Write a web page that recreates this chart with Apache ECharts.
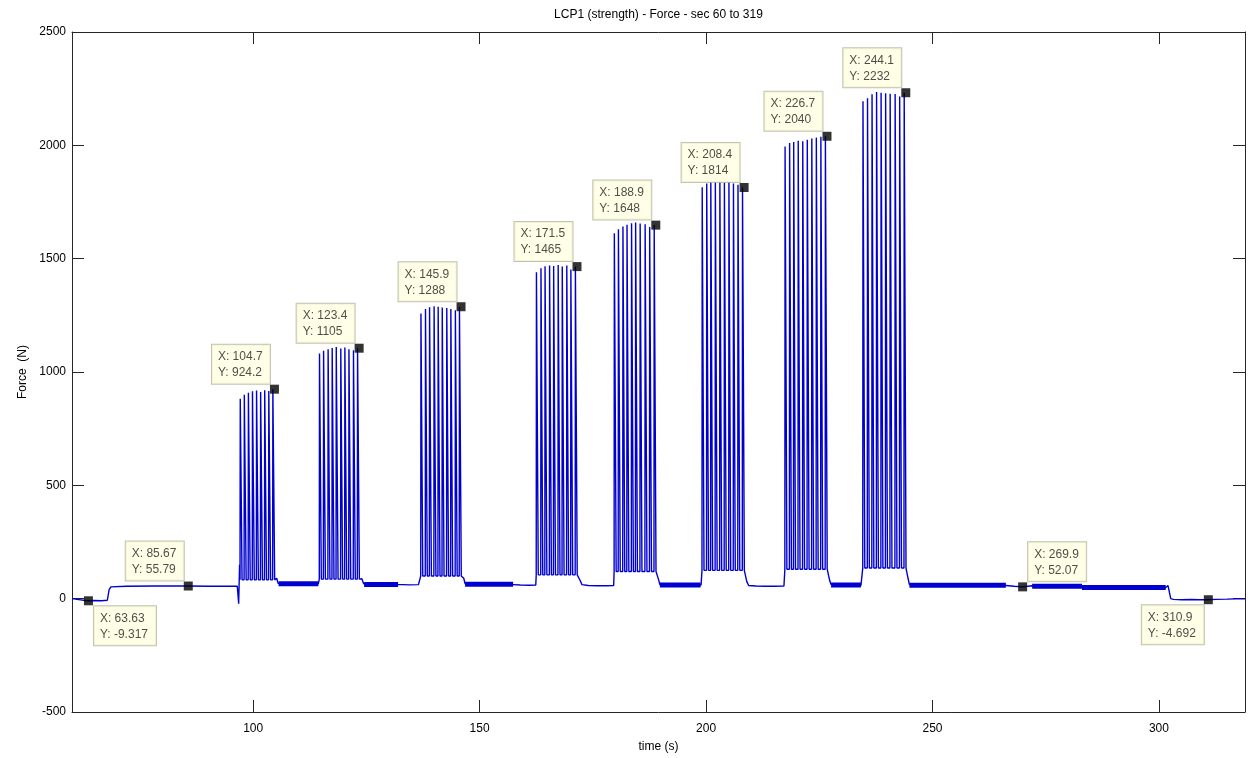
<!DOCTYPE html>
<html>
<head>
<meta charset="utf-8">
<title>LCP1 (strength) - Force</title>
<script src="https://cdn.jsdelivr.net/npm/echarts@6/dist/echarts.min.js"></script>
<style>
  html, body { margin: 0; padding: 0; background: #fff; }
  #chart { width: 1251px; height: 758px; }
</style>
</head>
<body>
<div id="chart"></div>
<script>
// tick labels
const xTicks = [100, 150, 200, 250, 300]

// quiet parts of the recording, [time s, force N]
const restSignal = [
  [60, 0], [61.5, -4], [63, -8], [63.63, -9.317], [65, -8], [66.5, -9], [67.8, -7], [68.2, 40], [68.6, 52],
  [72, 55], [78, 56], [85.67, 55.79], [90, 55], [96.5, 55], [96.8, -22], [97.0, 150],
  [105.2, 90], [105.5, 68], [110, 66], [114.4, 66],
  [124.0, 88], [124.4, 66], [128, 63], [132.0, 62], [133, 62], [134.5, 61], [136.5, 62],
  [146.5, 90], [146.8, 66], [152, 64], [157.4, 62], [159, 60], [161, 59], [162.4, 60],
  [172.2, 80], [172.6, 62], [174, 58], [176, 57], [178, 57], [179.6, 58],
  [189.5, 85], [189.8, 62], [194, 60], [198.9, 60],
  [209.0, 75], [209.4, 58], [211, 56], [213, 55], [215, 55], [217.2, 56],
  [227.3, 80], [227.6, 62], [231, 60], [234.2, 58],
  [244.6, 90], [244.9, 62], [255, 59], [266.2, 58], [268, 55], [269.9, 52.07], [271.5, 56],
  [272.0, 57], [278, 55], [283.0, 53], [290, 49], [296, 48], [301.5, 49], [302.0, 58], [302.3, 55],
  [302.6, 0], [303.2, -3], [305, -5], [307, -4], [309, -5], [310.9, -4.692], [312.5, -3], [315, -2],
  [317, -1], [319, -1]
]

// stretches where the resting signal is a thick noisy band
const bandStart = [105.6, 124.5, 146.8, 189.8, 227.6, 244.9, 272.0, 283.0]
const bandEnd = [114.4, 132.0, 157.4, 198.8, 234.2, 266.2, 283.0, 301.5]
const bandLevel = [66, 63, 64, 60, 60, 59, 55, 49]

// the eight strength sets: time of each peak, peak force, force between peaks
const peakTimes = [
  [97.5, 98.4, 99.3, 100.2, 101.1, 102.0, 102.9, 103.8, 104.7],
  [115.0, 115.9, 116.9, 117.8, 118.7, 119.7, 120.6, 121.5, 122.5, 123.4],
  [137.4, 138.4, 139.3, 140.3, 141.2, 142.1, 143.1, 144.0, 145.0, 145.9],
  [162.9, 163.9, 164.8, 165.8, 166.7, 167.7, 168.6, 169.6, 170.5, 171.5],
  [180.1, 181.0, 182.0, 182.9, 183.9, 184.8, 185.8, 186.9, 187.9, 188.9],
  [199.5, 200.5, 201.4, 202.4, 203.4, 204.4, 205.4, 206.4, 207.4, 208.4],
  [217.8, 218.8, 219.7, 220.7, 221.7, 222.7, 223.7, 224.7, 225.7, 226.7],
  [235.0, 236.0, 237.0, 238.0, 239.0, 240.0, 241.0, 242.1, 243.1, 244.1]
]
const peakForces = [
  [882, 900, 908, 915, 918, 912, 920, 916, 924.2],
  [1082, 1094, 1100, 1106, 1110, 1104, 1108, 1100, 1096, 1105],
  [1258, 1278, 1286, 1290, 1288, 1285, 1282, 1278, 1272, 1288],
  [1440, 1458, 1466, 1470, 1468, 1472, 1465, 1470, 1452, 1465],
  [1612, 1630, 1642, 1650, 1656, 1660, 1655, 1652, 1640, 1648],
  [1815, 1832, 1840, 1838, 1842, 1836, 1838, 1832, 1826, 1814],
  [1995, 2010, 2015, 2020, 2018, 2025, 2030, 2034, 2038, 2040],
  [2195, 2208, 2225, 2235, 2232, 2230, 2228, 2226, 2215, 2232]
]
const troughForce = [83, 86, 100, 105, 120, 125, 130, 135]

// data tips
const tipTime = [63.63, 85.67, 104.7, 123.4, 145.9, 171.5, 188.9, 208.4, 226.7, 244.1, 269.9, 310.9]
const tipForce = [-9.317, 55.79, 924.2, 1105, 1288, 1465, 1648, 1814, 2040, 2232, 52.07, -4.692]

// which side of its marker each tip box sits on
const tipPlace = ['br', 'tl', 'tl', 'tl', 'tl', 'tl', 'tl', 'tl', 'tl', 'tl', 'tr', 'bl']

const font = 'Liberation Sans, Arial, Helvetica, sans-serif'
const ink = '#262626'
const traceColor = '#0000d0'

// build the trace: each contraction is a short pulse up to its peak
let signal = restSignal.slice()
peakTimes.forEach(function (times, b) {
  times.forEach(function (t, i) {
    let f = peakForces[b][i]
    signal.push([t - 0.4, troughForce[b]], [t - 0.35, f], [t, f], [t + 0.05, troughForce[b]])
  })
})
signal.sort(function (a, b) { return a[0] - b[0] })

// tip boxes: text is left aligned, so boxes on the left are shifted by their width
let measure = document.createElement('canvas').getContext('2d')
measure.font = '12px ' + font
let tips = tipTime.map(function (t, i) {
  let lines = ['X: ' + t, 'Y: ' + tipForce[i]]
  let w = Math.ceil(Math.max(measure.measureText(lines[0]).width, measure.measureText(lines[1]).width)) + 1
  let side = tipPlace[i]
  let px = side[1] === 'l' ? -(w + 12) : 10
  let py = side[0] === 't' ? -1 : 10
  return {
    value: [t, tipForce[i]],
    label: { width: w, position: [px, py], align: 'left', verticalAlign: side[0] === 't' ? 'bottom' : 'top' }
  }
})

let bandSeries = bandStart.map(function (s, i) {
  return {
    type: 'line',
    data: [[s, bandLevel[i]], [bandEnd[i], bandLevel[i]]],
    symbol: 'none',
    silent: true,
    lineStyle: { color: traceColor, width: 5 },
    z: 2
  }
})

let chart = echarts.init(document.getElementById('chart'), null, { renderer: 'canvas' })
chart.setOption({
  animation: false,
  backgroundColor: '#ffffff',
  textStyle: { fontFamily: font },
  grid: { left: 72, right: 6, top: 32, bottom: 42 },
  xAxis: [{
    type: 'value', min: 60, max: 319, position: 'bottom',
    name: 'time (s)', nameLocation: 'middle', nameGap: 29,
    nameTextStyle: { color: '#000', fontSize: 12, fontFamily: font },
    axisLine: { show: true, onZero: false, lineStyle: { color: ink, width: 1 } },
    axisTick: { show: true, inside: true, length: 12, customValues: xTicks, lineStyle: { color: ink } },
    axisLabel: { customValues: xTicks, color: '#000', fontSize: 12, margin: 11, fontFamily: font },
    splitLine: { show: false }
  }, {
    type: 'value', min: 60, max: 319, position: 'top',
    name: 'LCP1 (strength) - Force - sec 60 to 319', nameLocation: 'middle', nameGap: 11,
    nameTextStyle: { color: '#000', fontSize: 12, fontFamily: font },
    axisLine: { show: true, onZero: false, lineStyle: { color: ink, width: 1 } },
    axisTick: { show: true, inside: true, length: 12, customValues: xTicks, lineStyle: { color: ink } },
    axisLabel: { show: false },
    splitLine: { show: false }
  }],
  yAxis: [{
    type: 'value', min: -500, max: 2500, interval: 500, position: 'left',
    name: 'Force  (N)', nameLocation: 'middle', nameGap: 43,
    nameTextStyle: { color: '#000', fontSize: 12, fontFamily: font },
    axisLine: { show: true, onZero: false, lineStyle: { color: ink, width: 1 } },
    axisTick: { show: true, inside: true, length: 12, lineStyle: { color: ink } },
    axisLabel: {
      color: '#000', fontSize: 12, margin: 6, fontFamily: font,
      formatter: function (v) { return String(v) }
    },
    splitLine: { show: false }
  }, {
    type: 'value', min: -500, max: 2500, interval: 500, position: 'right',
    axisLine: { show: true, onZero: false, lineStyle: { color: ink, width: 1 } },
    axisTick: { show: true, inside: true, length: 12, lineStyle: { color: ink } },
    axisLabel: { show: false },
    splitLine: { show: false }
  }],
  series: [{
    type: 'line',
    data: signal,
    symbol: 'none',
    showSymbol: false,
    silent: true,
    lineStyle: { color: traceColor, width: 1.4 },
    z: 2
  }].concat(bandSeries, [{
    type: 'scatter',
    data: tips,
    symbol: 'rect',
    symbolSize: 9,
    silent: true,
    itemStyle: { color: '#000' },
    label: {
      show: true,
      formatter: function (p) { return 'X: ' + p.value[0] + '\nY: ' + p.value[1] },
      color: '#222',
      fontSize: 12,
      lineHeight: 16,
      fontFamily: font,
      backgroundColor: '#ffffe1',
      borderColor: '#b4b49c',
      borderWidth: 1,
      padding: [4, 6, 3, 6]
    },
    z: 5
  }])
})
</script>
</body>
</html>
